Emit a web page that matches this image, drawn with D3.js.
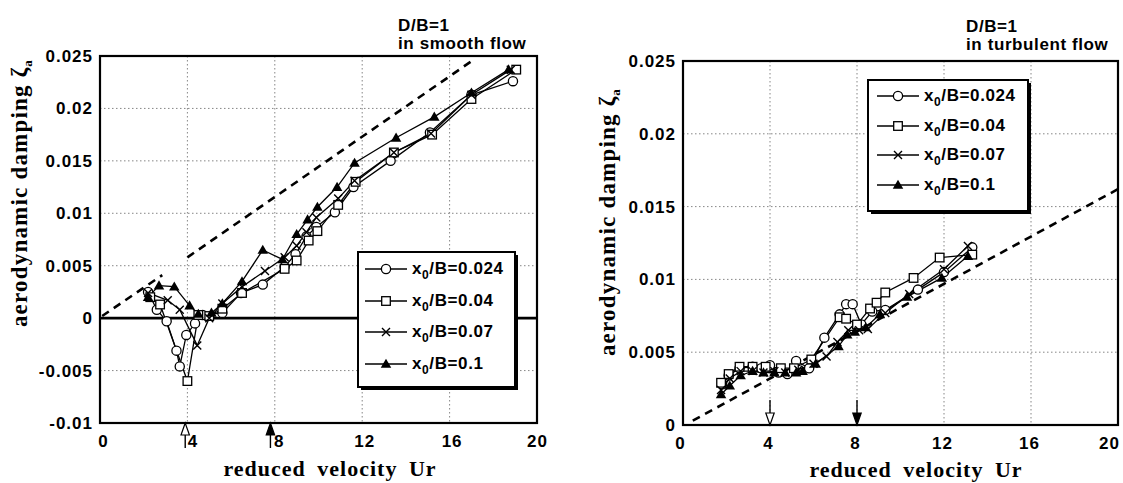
<!DOCTYPE html>
<html><head><meta charset="utf-8">
<script src="https://cdn.jsdelivr.net/npm/d3@7"></script>
<style>
html,body{margin:0;padding:0;background:#fff;}
svg{display:block;}
.tick text{font-family:"Liberation Sans",Arial,sans-serif;font-weight:bold;font-size:17px;fill:#000;letter-spacing:1px;}
</style></head>
<body>
<svg id="chart" width="1123" height="483"></svg>
<script>
// ---------- DATA ----------
const xTickValues = [0, 4, 8, 12, 16, 20];
const xTickLabels = ["0", "4", "8", "12", "16", "20"];
const yTickValuesL = [-0.01, -0.005, 0, 0.005, 0.01, 0.015, 0.02, 0.025];
const yTickLabelsL = ["-0.01", "-0.005", "0", "0.005", "0.01", "0.015", "0.02", "0.025"];
const yTickValuesR = [0, 0.005, 0.01, 0.015, 0.02, 0.025];
const yTickLabelsR = ["0", "0.005", "0.01", "0.015", "0.02", "0.025"];
const seriesNames = ["0.024", "0.04", "0.07", "0.1"];

// smooth flow (left)
const smoothX_024 = [2.2, 2.6, 3.05, 3.5, 3.65, 3.95, 4.35, 4.7, 5.6, 6.45, 7.45, 8.45, 8.95, 9.45, 9.9, 10.75, 11.6, 13.3, 15.1, 17.0, 18.9];
const smoothY_024 = [0.0025, 0.0008, -0.0003, -0.0031, -0.0046, -0.0016, -0.0005, 0.0003, 0.0005, 0.0024, 0.0032, 0.0049, 0.0061, 0.0078, 0.0087, 0.0101, 0.0125, 0.0150, 0.0177, 0.0213, 0.0226];
const smoothX_04 = [2.3, 2.75, 4.0, 4.5, 5.0, 5.6, 6.5, 8.45, 9.0, 9.55, 9.95, 10.9, 11.7, 13.45, 15.2, 17.0, 19.05];
const smoothY_04 = [0.0020, 0.0013, -0.0060, 0.0003, 0.0002, 0.0009, 0.0024, 0.0047, 0.0055, 0.0074, 0.0083, 0.0108, 0.0130, 0.0158, 0.0175, 0.0209, 0.0237];
const smoothX_07 = [2.2, 3.1, 3.65, 4.45, 5.0, 5.6, 6.5, 7.55, 8.45, 9.0, 9.45, 9.9, 10.9, 11.65, 13.45, 15.15, 17.0, 18.8];
const smoothY_07 = [0.0024, 0.0017, 0.0008, -0.0026, 0.0000, 0.0014, 0.0030, 0.0045, 0.0058, 0.0069, 0.0082, 0.0096, 0.0114, 0.0131, 0.0158, 0.0176, 0.0213, 0.0237];
const smoothX_1 = [2.2, 2.7, 3.4, 4.1, 4.5, 5.1, 5.6, 6.5, 7.45, 8.35, 9.0, 9.5, 9.95, 10.85, 11.65, 13.55, 15.3, 17.0, 18.7];
const smoothY_1 = [0.0020, 0.0031, 0.0030, 0.0012, 0.0004, 0.0005, 0.0014, 0.0035, 0.0065, 0.0056, 0.0080, 0.0094, 0.0106, 0.0125, 0.0148, 0.0172, 0.0192, 0.0215, 0.0237];
const smoothDashA = [[0.1, 0.0002], [2.85, 0.0041]];
const smoothDashB = [[4.0, 0.0058], [17.0, 0.0245]];
const smoothArrowsUr = [3.9, 7.8];

// turbulent flow (right)
const turbX_024 = [1.8, 2.1, 2.6, 3.2, 3.6, 4.0, 4.4, 4.8, 5.2, 5.8, 6.5, 7.2, 7.5, 7.8, 8.2, 8.7, 9.3, 10.8, 12.0, 13.3];
const turbY_024 = [0.0028, 0.0034, 0.0039, 0.0040, 0.0039, 0.0041, 0.0036, 0.0035, 0.0044, 0.0039, 0.0060, 0.0076, 0.0083, 0.0083, 0.0069, 0.0078, 0.0079, 0.0093, 0.0105, 0.0122];
const turbX_04 = [1.75, 2.1, 2.6, 3.2, 3.8, 4.5, 5.1, 5.9, 7.2, 7.5, 8.0, 8.6, 8.9, 9.3, 10.6, 11.8, 13.3];
const turbY_04 = [0.0029, 0.0035, 0.0040, 0.0040, 0.0040, 0.0039, 0.0039, 0.0045, 0.0074, 0.0073, 0.0069, 0.0080, 0.0084, 0.0091, 0.0101, 0.0115, 0.0117];
const turbX_07 = [1.75, 2.15, 2.65, 3.2, 3.7, 4.2, 4.7, 5.3, 6.0, 6.6, 7.1, 7.6, 8.1, 8.5, 9.3, 10.4, 12.0, 13.1];
const turbY_07 = [0.0024, 0.0032, 0.0037, 0.0037, 0.0036, 0.0037, 0.0036, 0.0038, 0.0042, 0.0047, 0.0057, 0.0065, 0.0065, 0.0066, 0.0077, 0.0090, 0.0107, 0.0123];
const turbX_1 = [1.75, 2.15, 2.65, 3.2, 3.7, 4.2, 4.7, 5.2, 5.5, 6.1, 7.15, 7.55, 7.9, 8.4, 9.05, 10.3, 11.9, 13.1];
const turbY_1 = [0.0021, 0.0027, 0.0034, 0.0037, 0.0036, 0.0036, 0.0036, 0.0036, 0.0037, 0.0042, 0.0054, 0.0062, 0.0064, 0.0067, 0.0076, 0.0088, 0.0101, 0.0116];
const turbDash = [[0.45, 0.0003], [20, 0.0162]];
const turbArrowsUr = [4, 8];

// ---------- DRAWING ----------
const svg = d3.select("#chart");
const SANS = '"Liberation Sans", Arial, sans-serif';
const SERIF = '"Liberation Serif", "Times New Roman", serif';
const markerTypes = ["circle", "square", "x", "triangle"];

function drawMarker(g, type, cx, cy) {
  if (type === "circle") {
    g.append("circle").attr("cx", cx).attr("cy", cy).attr("r", 4.6)
      .attr("fill", "#fff").attr("stroke", "#000").attr("stroke-width", 1.3);
  } else if (type === "square") {
    g.append("rect").attr("x", cx - 4.3).attr("y", cy - 4.3).attr("width", 8.6).attr("height", 8.6)
      .attr("fill", "#fff").attr("stroke", "#000").attr("stroke-width", 1.3);
  } else if (type === "x") {
    g.append("path").attr("d", `M${cx-4},${cy-4}L${cx+4},${cy+4}M${cx-4},${cy+4}L${cx+4},${cy-4}`)
      .attr("stroke", "#000").attr("stroke-width", 1.4).attr("fill", "none");
  } else {
    g.append("path").attr("d", d3.symbol().type(d3.symbolTriangle).size(48)())
      .attr("transform", `translate(${cx},${cy + 0.8})`).attr("fill", "#000");
  }
}

function panel(cfg) {
  const x = d3.scaleLinear().domain([0, 20]).range(cfg.xr);
  const y = d3.scaleLinear().domain(cfg.yd).range(cfg.yr);
  const g = svg.append("g");

  // grid (dotted, faint)
  const grid = g.append("g").attr("stroke", "#555").attr("stroke-width", 1)
    .attr("stroke-dasharray", "1.5 2.5").attr("opacity", 0.7);
  xTickValues.slice(1, -1).forEach(v => grid.append("line")
    .attr("x1", x(v)).attr("x2", x(v)).attr("y1", cfg.yr[1]).attr("y2", cfg.yr[0]));
  cfg.yTicks.slice(1, -1).forEach(v => { if (v !== 0 || !cfg.zeroLine) grid.append("line")
    .attr("x1", cfg.xr[0]).attr("x2", cfg.xr[1]).attr("y1", y(v)).attr("y2", y(v)); });

  // zero line
  if (cfg.zeroLine) g.append("line").attr("x1", cfg.xr[0]).attr("x2", cfg.xr[1])
    .attr("y1", y(0)).attr("y2", y(0)).attr("stroke", "#000").attr("stroke-width", 2.6);

  // dashed reference lines
  cfg.dashes.forEach(seg => g.append("path")
    .attr("d", d3.line().x(d => x(d[0])).y(d => y(d[1]))(seg))
    .attr("fill", "none").attr("stroke", "#000").attr("stroke-width", 2.6)
    .attr("stroke-dasharray", "8 6"));

  // series
  cfg.series.forEach((s, i) => {
    const pts = s.x.map((v, k) => [v, s.y[k]]);
    g.append("path").attr("d", d3.line().x(d => x(d[0])).y(d => y(d[1]))(pts))
      .attr("fill", "none").attr("stroke", "#000").attr("stroke-width", 1.3);
  });
  cfg.series.forEach((s, i) => {
    const mg = g.append("g");
    s.x.forEach((v, k) => drawMarker(mg, markerTypes[i], x(v), y(s.y[k])));
  });

  // frame
  g.append("rect").attr("x", cfg.xr[0]).attr("y", cfg.yr[1])
    .attr("width", cfg.xr[1] - cfg.xr[0]).attr("height", cfg.yr[0] - cfg.yr[1])
    .attr("fill", "none").attr("stroke", "#000").attr("stroke-width", 2.2);

  // axes
  const ax = g.append("g").attr("transform", `translate(0,${cfg.yr[0]})`)
    .call(d3.axisBottom(x).tickValues(xTickValues).tickFormat((d, i) => xTickLabels[i])
      .tickSize(0).tickPadding(12));
  ax.select(".domain").remove();
  ax.selectAll(".tick text").attr("dx", (d, i) => cfg.xLabelDx[i]);
  const ay = g.append("g").attr("transform", `translate(${cfg.xr[0]},0)`)
    .call(d3.axisLeft(y).tickValues(cfg.yTicks).tickFormat((d, i) => cfg.yLabels[i])
      .tickSize(0).tickPadding(7));
  ay.select(".domain").remove();

  // arrows
  cfg.arrows.forEach((v, i) => {
    const ax0 = x(v), tip = cfg.yr[0];
    const dir = cfg.arrowUp ? 1 : -1;
    const headEnd = tip + dir * 12, tail = tip + dir * 25;
    g.append("line").attr("x1", ax0).attr("x2", ax0).attr("y1", headEnd).attr("y2", tail)
      .attr("stroke", "#000").attr("stroke-width", 1.4);
    g.append("path").attr("d", `M${ax0},${tip}L${ax0-4.2},${headEnd}L${ax0+4.2},${headEnd}Z`)
      .attr("fill", i === 0 ? "#fff" : "#000").attr("stroke", "#000").attr("stroke-width", 1.2);
  });

  // titles
  const t = g.append("text").attr("font-family", SANS).attr("font-weight", "bold")
    .attr("font-size", 17).attr("letter-spacing", 0.6);
  t.append("tspan").attr("x", cfg.titlePos[0]).attr("y", cfg.titlePos[1]).text("D/B=1");
  t.append("tspan").attr("x", cfg.titlePos[0]).attr("y", cfg.titlePos[1] + 18).text(cfg.flow);

  g.append("text").attr("x", cfg.xTitlePos[0]).attr("y", cfg.xTitlePos[1])
    .attr("text-anchor", "middle").attr("font-family", SERIF).attr("font-weight", "bold")
    .attr("font-size", 22).attr("letter-spacing", 1).attr("word-spacing", 5)
    .text("reduced velocity Ur");

  const yt = g.append("text").attr("transform", `translate(${cfg.yTitlePos[0]},${cfg.yTitlePos[1]}) rotate(-90)`)
    .attr("text-anchor", "middle").attr("font-family", SERIF).attr("font-weight", "bold")
    .attr("font-size", 23).attr("letter-spacing", 1.2);
  yt.append("tspan").text("aerodynamic damping ζ");
  yt.append("tspan").attr("font-size", 13).attr("dy", 5).text("a");

  // legend
  const L = cfg.legend;
  const lg = g.append("g");
  lg.append("rect").attr("x", L.x + 3).attr("y", L.y + 3).attr("width", L.w).attr("height", L.h).attr("fill", "#000");
  lg.append("rect").attr("x", L.x).attr("y", L.y).attr("width", L.w).attr("height", L.h)
    .attr("fill", "#fff").attr("stroke", "#000").attr("stroke-width", 2);
  seriesNames.forEach((n, i) => {
    const ry = L.rows[i];
    lg.append("line").attr("x1", L.lx0).attr("x2", L.lx1).attr("y1", ry).attr("y2", ry)
      .attr("stroke", "#000").attr("stroke-width", 1.4);
    drawMarker(lg, markerTypes[i], (L.lx0 + L.lx1) / 2, ry);
    const tx = lg.append("text").attr("x", L.tx).attr("y", ry + 5).attr("font-family", SANS)
      .attr("font-weight", "bold").attr("font-size", 17).attr("letter-spacing", 0.6);
    tx.append("tspan").text("x");
    tx.append("tspan").attr("font-size", 12).attr("dy", 5).text("0");
    tx.append("tspan").attr("dy", -5).text("/B=" + n);
  });
}

panel({
  xr: [100, 537], yr: [423, 56], yd: [-0.01, 0.025],
  yTicks: yTickValuesL, yLabels: yTickLabelsL, zeroLine: true,
  dashes: [smoothDashA, smoothDashB],
  series: [{x: smoothX_024, y: smoothY_024}, {x: smoothX_04, y: smoothY_04},
           {x: smoothX_07, y: smoothY_07}, {x: smoothX_1, y: smoothY_1}],
  arrows: smoothArrowsUr, arrowUp: true, xLabelDx: [3, 5, 4, 2, 2, 0],
  titlePos: [398, 31], flow: "in smooth flow",
  xTitlePos: [330, 476], yTitlePos: [27, 193],
  legend: {x: 358, y: 252, w: 157, h: 135, rows: [269, 301, 332, 364], lx0: 365, lx1: 407, tx: 412}
});
panel({
  xr: [683, 1118], yr: [425, 61], yd: [0, 0.025],
  yTicks: yTickValuesR, yLabels: yTickLabelsR, zeroLine: false,
  dashes: [turbDash],
  series: [{x: turbX_024, y: turbY_024}, {x: turbX_04, y: turbY_04},
           {x: turbX_07, y: turbY_07}, {x: turbX_1, y: turbY_1}],
  arrows: turbArrowsUr, arrowUp: false, xLabelDx: [-3, -2, -2, -2, -2, -9],
  titlePos: [966, 32], flow: "in turbulent flow",
  xTitlePos: [916, 477], yTitlePos: [615, 222],
  legend: {x: 868, y: 80, w: 160, h: 131, rows: [96, 126, 155, 185], lx0: 877, lx1: 919, tx: 924}
});
</script>
</body></html>
